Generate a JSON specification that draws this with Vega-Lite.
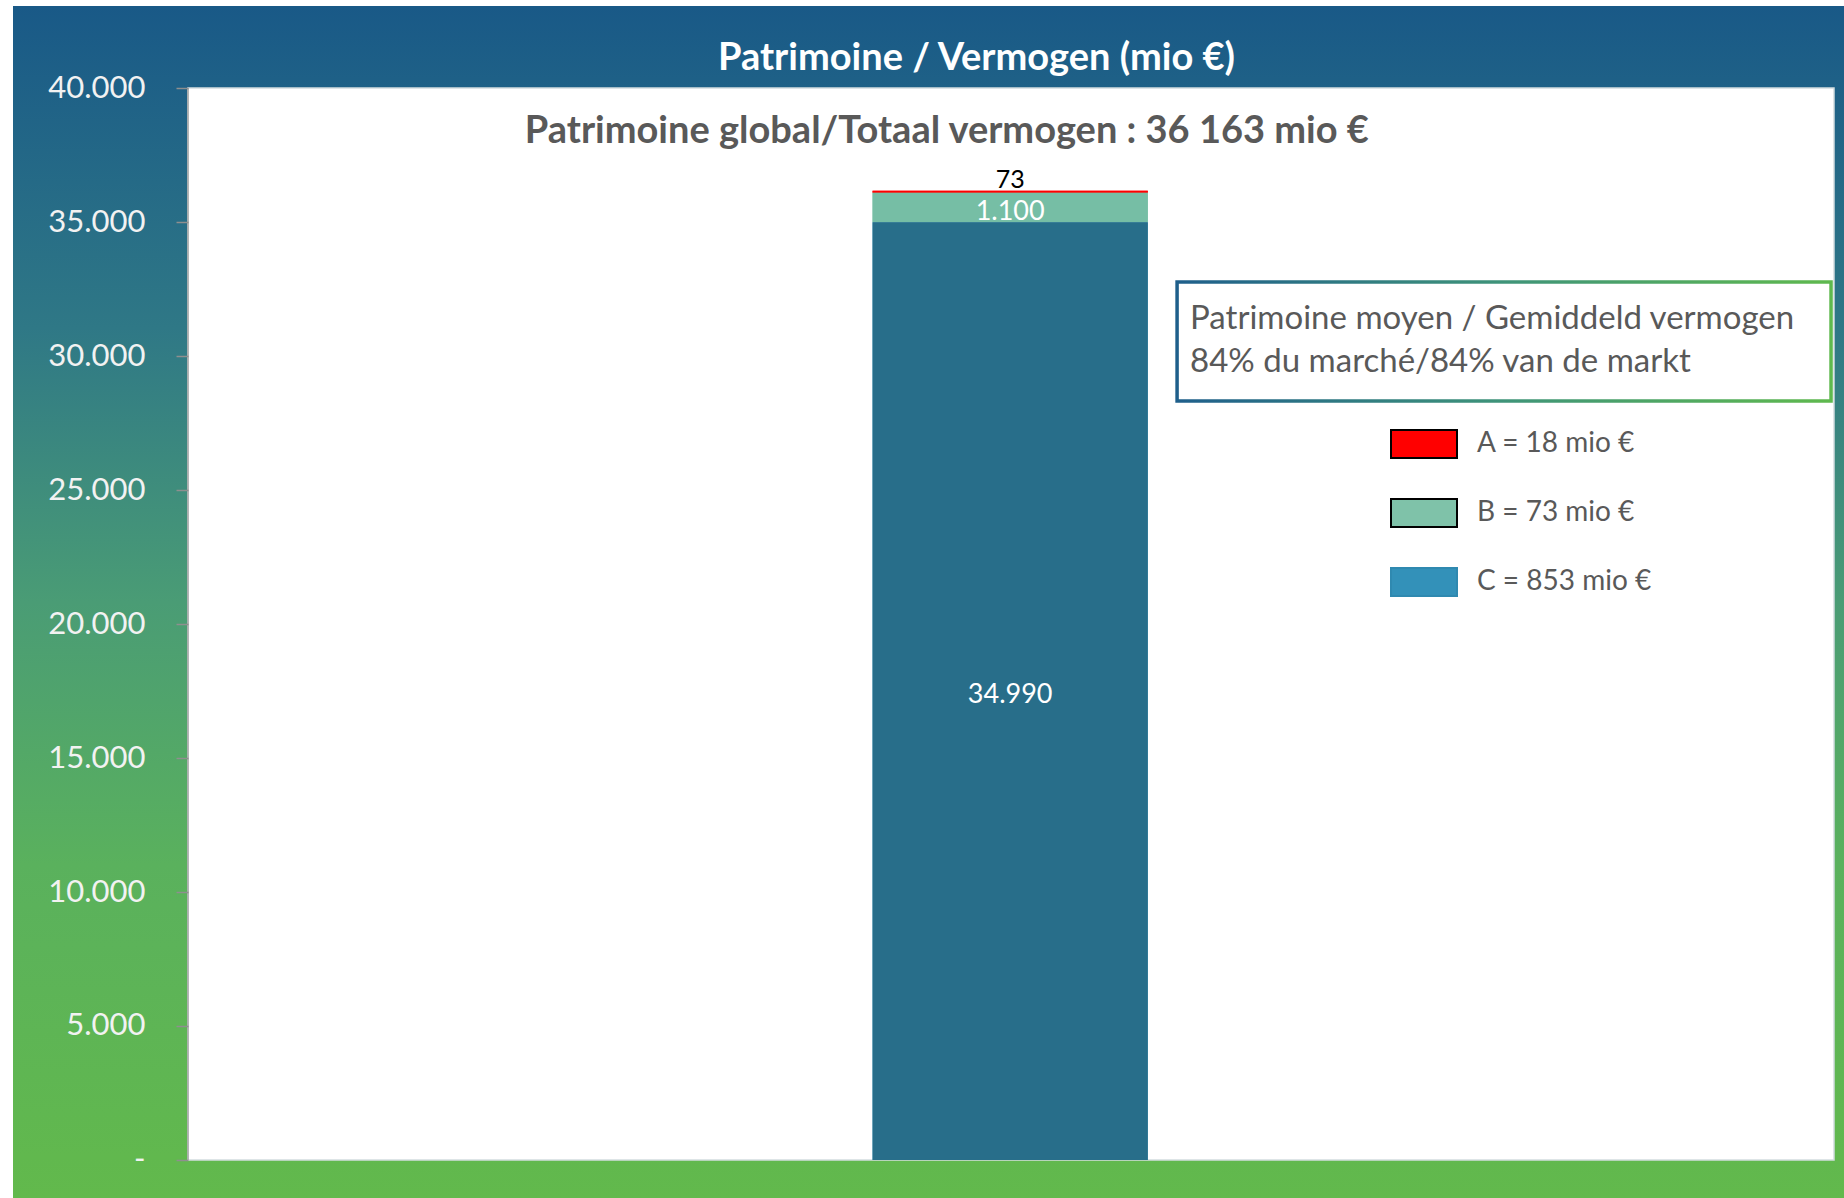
{
  "$schema": "https://vega.github.io/schema/vega-lite/v6.json",
  "width": 1844,
  "height": 1198,
  "autosize": {"type": "fit", "contains": "padding"},
  "padding": {"left": 13, "top": 6, "right": 0, "bottom": 0},
  "background": "white",
  "title": {
    "text": "Patrimoine / Vermogen (mio €)",
    "color": "#ffffff",
    "font": "Lato",
    "fontSize": 38,
    "fontWeight": "bold",
    "anchor": "middle",
    "frame": "group",
    "orient": "top",
    "baseline": "middle",
    "offset": -91,
    "dx": 48
  },
  "datasets": {
    "bars": [
      {"cat": "Patrimoine", "name": "A = 18 mio €", "value": 73},
      {"cat": "Patrimoine", "name": "B = 73 mio €", "value": 1100},
      {"cat": "Patrimoine", "name": "C = 853 mio €", "value": 34990}
    ],
    "frame": [{"id": "plot"}]
  },
  "layer": [
    {
      "data": {"name": "frame"},
      "layer": [
        {
          "mark": {"type": "rect", "fill": "#ffffff", "stroke": "#d3dde0", "strokeWidth": 1.5},
          "encoding": {
            "x": {"datum": 0, "type": "quantitative", "axis": null, "scale": {"domain": [-0.10632, 1.00608], "nice": false, "zero": false}},
            "x2": {"datum": 1},
            "y": {"datum": 0, "type": "quantitative", "scale": {"domain": [-1418, 43060], "nice": false, "zero": false}},
            "y2": {"datum": 40000}
          }
        },
        {
          "mark": {"type": "rule", "color": "#a6a6a6", "strokeWidth": 1.5},
          "encoding": {
            "x": {"datum": 0, "type": "quantitative", "axis": null},
            "y": {"datum": 0, "type": "quantitative"},
            "y2": {"datum": 40000}
          }
        },
        {
          "mark": {"type": "text", "text": "Patrimoine global/Totaal vermogen : 36 163 mio €", "font": "Lato", "fontSize": 38, "fontWeight": "bold", "color": "#595959", "align": "center", "baseline": "middle", "dy": 2},
          "encoding": {
            "x": {"datum": 0.461, "type": "quantitative", "axis": null},
            "y": {"datum": 38433, "type": "quantitative"}
          }
        },
        {
          "mark": {
            "type": "rect",
            "fill": "#ffffff",
            "strokeWidth": 3.5,
            "stroke": {"gradient": "linear", "x1": 0, "y1": 0, "x2": 1, "y2": 0, "stops": [{"offset": 0, "color": "#1f5f8b"}, {"offset": 0.5, "color": "#3f9479"}, {"offset": 1, "color": "#5fb94e"}]}
          },
          "encoding": {
            "x": {"datum": 0.6009, "type": "quantitative", "axis": null},
            "x2": {"datum": 0.9982},
            "y": {"datum": 32761, "type": "quantitative"},
            "y2": {"datum": 28321}
          }
        },
        {
          "mark": {"type": "text", "text": "Patrimoine moyen / Gemiddeld vermogen\n84% du marché/84% van de markt", "lineBreak": "\n", "lineHeight": 43, "font": "Lato", "fontSize": 33, "color": "#595959", "align": "left", "baseline": "middle"},
          "encoding": {
            "x": {"datum": 0.6088, "type": "quantitative", "axis": null},
            "y": {"datum": 31381, "type": "quantitative"}
          }
        }
      ]
    },
    {
      "data": {"name": "bars"},
      "encoding": {
        "x": {"field": "cat", "type": "nominal", "axis": null, "scale": {"paddingInner": 0.6462, "paddingOuter": 1, "align": 0.5525}},
        "order": {"field": "name", "sort": "descending"}
      },
      "layer": [
        {
          "mark": {"type": "bar"},
          "encoding": {
            "y": {"field": "value", "type": "quantitative", "stack": "zero"},
            "color": {
              "field": "name",
              "type": "nominal",
              "scale": {"domain": ["A = 18 mio €", "B = 73 mio €", "C = 853 mio €"], "range": ["#ff0000", "#7fc2a9", "#3391b9"]},
              "legend": {
                "title": null,
                "orient": "none",
                "legendX": 1377,
                "legendY": 404,
                "padding": 0,
                "rowPadding": 17,
                "symbolType": "M-1,-0.424H1V0.424H-1Z",
                "symbolSize": 4356,
                "symbolStrokeWidth": 2,
                "symbolOpacity": 1,
                "labelFont": "Lato",
                "labelFontSize": 28,
                "labelColor": "#595959",
                "labelOffset": 19,
                "labelLimit": 400,
                "encode": {
                  "symbols": {
                    "update": {
                      "stroke": [
                        {"test": "datum.value === 'C = 853 mio €'", "value": "#2f89b0"},
                        {"value": "#000000"}
                      ]
                    }
                  }
                }
              }
            }
          }
        },
        {
          "mark": {"type": "bar"},
          "encoding": {
            "y": {
              "field": "value",
              "type": "quantitative",
              "stack": "zero",
              "axis": {
                "title": null,
                "values": [0, 5000, 10000, 15000, 20000, 25000, 30000, 35000, 40000],
                "format": ",.0f",
                "labelExpr": "datum.value === 0 ? '-' : datum.label",
                "offset": -175,
                "zindex": 2,
                "domain": false,
                "grid": false,
                "ticks": true,
                "tickSize": 12,
                "tickWidth": 1.5,
                "tickColor": "#8f8f8f",
                "labelColor": "#f2f2f2",
                "labelFont": "Lato",
                "labelFontSize": 31,
                "labelPadding": 31,
                "labelBaseline": "middle",
                "encode": {
                  "labels": {
                    "update": {
                      "dx": {"signal": "datum.value === 0 ? -16 : 0"}
                    }
                  }
                }
              }
            },
            "fill": {
              "field": "name",
              "type": "nominal",
              "scale": {"domain": ["A = 18 mio €", "B = 73 mio €", "C = 853 mio €"], "range": ["#ff0000", "#76bea5", "#286e8a"]},
              "legend": null
            }
          }
        },
        {
          "mark": {"type": "text", "font": "Lato", "fontSize": 27, "color": "#ffffff", "baseline": "middle", "dy": 4},
          "encoding": {
            "y": {"field": "value", "type": "quantitative", "stack": "zero", "bandPosition": 0.5},
            "detail": {"field": "name"},
            "text": {"condition": {"test": "datum.name !== 'A = 18 mio €'", "field": "value", "format": ",.0f"}, "value": ""}
          }
        },
        {
          "mark": {"type": "text", "font": "Lato", "fontSize": 25, "color": "#000000", "baseline": "bottom", "dy": 2},
          "encoding": {
            "y": {"field": "value", "type": "quantitative", "stack": "zero"},
            "detail": {"field": "name"},
            "text": {"condition": {"test": "datum.name === 'A = 18 mio €'", "field": "value", "format": ",.0f"}, "value": ""}
          }
        }
      ]
    }
  ],
  "resolve": {"scale": {"x": "independent"}},
  "config": {
    "font": "Lato",
    "view": {
      "stroke": null,
      "fill": {"gradient": "linear", "x1": 0, "y1": 0, "x2": 0, "y2": 1, "stops": [{"offset": 0, "color": "#195987"}, {"offset": 0.27, "color": "#2f7886"}, {"offset": 0.5, "color": "#4a9c75"}, {"offset": 0.72, "color": "#5ab15d"}, {"offset": 1, "color": "#62b94c"}]}
    },
    "locale": {"number": {"decimal": ",", "thousands": ".", "grouping": [3], "currency": ["", " €"]}}
  }
}
